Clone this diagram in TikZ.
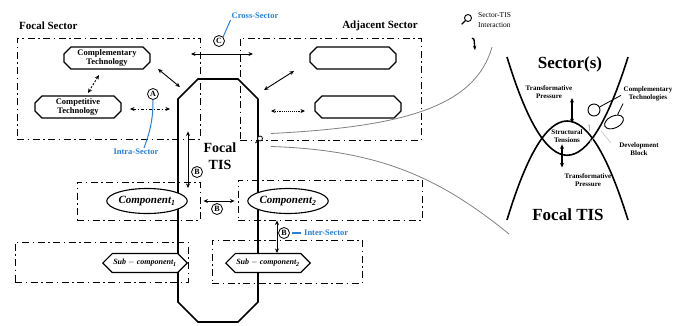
\documentclass[tikz,border=0pt]{standalone}
\usepackage{fontspec}
\setmainfont{Liberation Serif}
\usetikzlibrary{shapes.misc,shapes.symbols,shapes.geometric,arrows.meta,positioning}
\definecolor{secblue}{RGB}{40,128,215}
\newcommand{\octframe}[3][]{\draw[#1] ([xshift=#3]#2.north west) -- ([xshift=-#3]#2.north east) -- ([yshift=-#3]#2.north east) -- ([yshift=#3]#2.south east) -- ([xshift=-#3]#2.south east) -- ([xshift=#3]#2.south west) -- ([yshift=#3]#2.south west) -- ([yshift=-#3]#2.north west) -- cycle;}

\begin{document}
\begin{tikzpicture}[x=1pt,y=-1pt]
                \tikzstyle{sectorbox} = [draw, line width=0.9pt, inner sep=0pt, dash pattern=on 7pt off 3.5pt on 1.5pt off 3.5pt]
                \tikzstyle{techbox} = [rectangle, outer sep=0pt, minimum width=86pt, minimum height=22pt, inner sep=0pt, align=center, font=\bfseries\fontsize{8.5}{8.5}\selectfont]
                \tikzstyle{tisbox} = [rectangle, outer sep=0pt, minimum width=80pt, minimum height=243pt, inner sep=0pt]
                \tikzstyle{compbox} = [ellipse, draw, line width=1.1pt, fill=white, minimum width=80pt, minimum height=25pt, inner sep=0pt, font=\bfseries\itshape\fontsize{11}{11}\selectfont]
                \tikzstyle{subbox} = [signal, signal to=east and west, draw, line width=1.1pt, fill=white, minimum width=80pt, minimum height=19pt, inner sep=1pt, font=\bfseries\itshape\fontsize{8}{8}\selectfont]
                \tikzstyle{circ} = [circle, draw, line width=0.8pt, inner sep=0.4pt, minimum size=11pt, font=\bfseries\fontsize{8}{8}\selectfont]
                \tikzstyle{arrow} = [line width=0.9pt, <->, >={Stealth[length=4.5pt,width=4pt]}]
                \tikzstyle{bluelab} = [text=secblue, inner sep=1pt, font=\bfseries\fontsize{8.5}{8.5}\selectfont]
                \tikzstyle{title} = [inner sep=0pt, font=\bfseries\fontsize{11}{11}\selectfont]
                \tikzstyle{bigtitle} = [inner sep=0pt, font=\bfseries\fontsize{17}{17}\selectfont]
                \tikzstyle{small} = [align=center, inner sep=0pt, font=\bfseries\fontsize{7}{8.5}\selectfont]
                \tikzstyle{curve} = [line width=1.6pt]

                \useasboundingbox (0,0) rectangle (683,325);

                \node (focalsec) [title, anchor=west] at (19,26) {Focal Sector};
                \node (adjsec) [title] at (380,26) {Adjacent Sector};

                \node (focalbox) [sectorbox, minimum width=183pt, minimum height=101pt] at (108.5,88.5) {};
                \node (adjbox) [sectorbox, minimum width=181pt, minimum height=102pt] at (330.5,89) {};
                \node (comp1box) [sectorbox, minimum width=123pt, minimum height=38pt] at (138.5,201) {};
                \node (comp2box) [sectorbox, minimum width=184pt, minimum height=40pt] at (330,200) {};
                \node (sub1box) [sectorbox, minimum width=173pt, minimum height=40pt] at (101.5,262) {};
                \node (sub2box) [sectorbox, minimum width=150pt, minimum height=43pt] at (287,261.5) {};

                \node (tis) [tisbox] at (218,200.5) {};
                \octframe[line width=1.7pt]{tis}{20pt}
                \node (tislab) [align=center, font=\bfseries\fontsize{14}{17}\selectfont] at (220,156) {Focal\\TIS};

                \node (comptech) [techbox] at (107,58) {Complementary\\Technology};
                \node (competech) [techbox] at (78,107) {Competitive\\Technology};
                \node (adjtech1) [techbox] at (353,58) {};
                \node (adjtech2) [techbox] at (358,107) {};
                \foreach \t in {comptech,competech,adjtech1,adjtech2}
                    \octframe[line width=1.2pt]{\t}{7pt};

                \node (comp1) [compbox] at (147,201) {Component\textsubscript{1}};
                \node (comp2) [compbox] at (288,201) {Component\textsubscript{2}};
                \node (sub1) [subbox] at (145,263) {Sub $-$ component\textsubscript{1}};
                \node (sub2) [subbox] at (268,263) {Sub $-$ component\textsubscript{2}};

                \node (ca) [circ] at (153,94) {A};
                \node (cc) [circ] at (219,41) {C};
                \node (cb1) [circ] at (197,172) {B};
                \node (cb2) [circ] at (217,209) {B};
                \node (cb3) [circ] at (284,233) {B};

                \node (crosslab) [bluelab] at (255,16) {Cross-Sector};
                \node (intralab) [bluelab] at (136,152) {Intra-Sector};
                \node (interlab) [bluelab, anchor=west] at (303,233) {Inter-Sector};

                \draw [arrow, dash pattern=on 2pt off 1.5pt] ([shift={(-8pt,-6pt)}]comptech.south) -- ([shift={(10pt,3pt)}]competech.north);
                \draw [arrow, dash pattern=on 3pt off 2pt on 1pt off 2pt] ([xshift=9pt,yshift=-2pt]competech.east) -- ([xshift=-8pt,yshift=-2pt]competech.east -| tis.west);
                \draw [arrow] ([xshift=8pt]comptech.south east) -- ([shift={(2pt,-8pt)}]tis.north -| tis.west);
                \draw [arrow] ([shift={(-28pt,-13pt)}]cc.center) -- ([shift={(34pt,-13pt)}]cc.center);
                \draw [arrow] ([shift={(-16pt,-2pt)}]adjtech1.south west) -- ([shift={(6pt,-11pt)}]tis.north -| tis.east);
                \draw [arrow, densely dotted] ([xshift=-10pt,yshift=-4pt]adjtech2.west) -- ([xshift=13pt,yshift=-4pt]adjtech2.west -| tis.east);
                \draw [arrow] ([xshift=10pt,yshift=8pt]focalbox.south -| tis.west) -- ([xshift=10pt]comp1.north -| tis.west);
                \draw [arrow] ([xshift=3pt]comp1box.east) -- ([xshift=-3pt]comp1box.east -| comp2box.west);
                \draw [arrow] ([xshift=9pt]sub2.north |- comp2box.south) -- ([xshift=9pt]sub2.north);

                \draw [secblue, line width=1pt] (cc.north east) -- (crosslab.south west);
                \draw [secblue, line width=1pt] (ca.south) to[out=-90,in=70] ([xshift=8pt]intralab.north);
                \draw [secblue, line width=1.2pt] ([xshift=2pt]cb3.east) -- ([xshift=-2pt]interlab.west);

                \node (mag) [circle, draw, line width=0.8pt, minimum size=5pt, inner sep=0pt, fill=white] at (260,138.5) {};
                \draw [line width=1pt] (mag.south west) -- +(-2.5,2.5);
                \node (mag2) [circle, draw, line width=0.9pt, minimum size=7pt, inner sep=0pt] at (468,18) {};
                \draw [line width=1.1pt] (mag2.south west) -- +(-3.5,3.5);
                \node (stilab) [anchor=west, align=left, inner sep=0pt, font=\fontsize{7.5}{10}\selectfont] at (478,20.5) {Sector-TIS\\Interaction};
                \draw [line width=1.3pt, -{Stealth[length=4.5pt]}] ([shift={(-6pt,-10pt)}]stilab.south west) -- ++(2pt,-1pt) -- ++(1pt,-11pt);

                \coordinate (secend) at (492,47);
                \coordinate (tisend) at (509,234);
                \draw [gray, line width=0.8pt] ([shift={(8pt,5pt)}]mag.east) .. controls (400,127) and (475,108) .. (secend);
                \draw [gray, line width=0.8pt] ([shift={(8pt,-8pt)}]mag.east) .. controls (380,150) and (440,178) .. (tisend);

                \draw [curve] (507,57) .. controls (547,188) and (587,188) .. (628,57);
                \draw [curve] (507,220) .. controls (547,88) and (587,88) .. (628,220);

                \node (sectors) [bigtitle] at (570,64) {Sector(s)};
                \node (focaltis) [bigtitle] at (568,215) {Focal TIS};
                \node (press1) [small] at (549,92) {Transformative\\Pressure};
                \node (tens) [small] at (567,136) {Structural\\Tensions};
                \node (press2) [small] at (588,180) {Transformative\\Pressure};
                \node (complab) [small] at (648,94) {Complementary\\Technologies};
                \node (devlab) [small] at (639,149) {Development\\Block};

                \draw [arrow, line width=1.3pt] ([shift={(5pt,6pt)}]tens.north) -- ([shift={(5pt,31pt)}]tens.north);
                \draw [arrow, line width=1.3pt] ([shift={(-5pt,-1.5pt)}]tens.south) -- ([shift={(-5pt,-24.5pt)}]tens.south);

                \node (ring1) [circle, draw, line width=0.9pt, minimum size=12pt, inner sep=0pt] at (594,110) {};
                \node (ring2) [ellipse, draw, line width=0.9pt, minimum width=20pt, minimum height=12pt, inner sep=0pt, rotate=25] at (614,122) {};
                \draw [line width=0.8pt, shorten <=3pt] (complab.west) -- (ring1);
                \draw [line width=0.8pt, shorten <=2pt] ([xshift=-24pt]complab.south) -- (ring2);

                \draw [gray!60, -{Stealth[length=2pt]}] (589,131) -- (589,124);
                \draw [gray!60] (601,131) -- (611,143);
                \draw [gray!60, -{Stealth[length=2pt]}] (595,137) -- (590,142);
            \end{tikzpicture}
\end{document}
